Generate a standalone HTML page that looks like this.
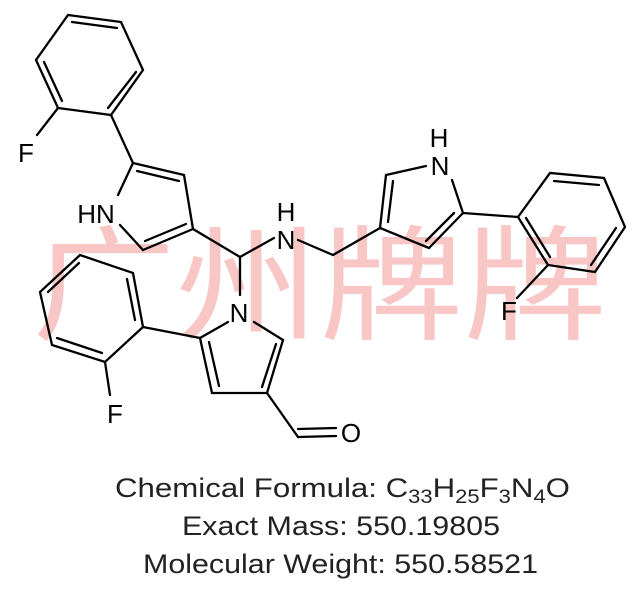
<!DOCTYPE html>
<html><head><style>html,body{margin:0;padding:0;background:#fff;}svg{display:block}</style></head>
<body>
<svg width="642" height="600" viewBox="0 0 642 600" xmlns="http://www.w3.org/2000/svg">
<g font-family="'Liberation Sans','Noto Sans CJK SC',sans-serif" fill="#f9c6c6" font-size="125">
<text x="32" y="330" textLength="575" lengthAdjust="spacingAndGlyphs">广州牌牌</text>
</g>
<g stroke="#000" stroke-width="2.3" fill="none" stroke-linecap="round">
<polyline points="68,15 121,22 143,70 111,115 58,108 36,60 68,15"/>
<line x1="72" y1="22" x2="117" y2="28"/>
<line x1="136" y1="72" x2="108" y2="108"/>
<line x1="44" y1="62" x2="62" y2="101"/>
<line x1="58" y1="108" x2="37" y2="135"/>
<line x1="111" y1="115" x2="133" y2="163"/>
<line x1="133" y1="163" x2="184" y2="175"/>
<line x1="137" y1="171" x2="179" y2="181"/>
<line x1="184" y1="175" x2="193" y2="229"/>
<line x1="193" y1="229" x2="143" y2="250"/>
<line x1="186" y1="224" x2="145" y2="241"/>
<line x1="120" y1="225" x2="143" y2="250"/>
<line x1="118" y1="195" x2="133" y2="163"/>
<line x1="193" y1="229" x2="240" y2="257"/>
<line x1="240" y1="257" x2="274" y2="238"/>
<line x1="240" y1="257" x2="240" y2="295"/>
<line x1="298" y1="240" x2="333" y2="255"/>
<line x1="333" y1="255" x2="380" y2="228"/>
<line x1="380" y1="228" x2="386" y2="175"/>
<line x1="388" y1="222" x2="393" y2="181"/>
<line x1="386" y1="175" x2="426" y2="166"/>
<line x1="452" y1="180" x2="463" y2="213"/>
<line x1="463" y1="213" x2="429" y2="248"/>
<line x1="454" y1="213" x2="426" y2="241"/>
<line x1="429" y1="248" x2="380" y2="228"/>
<line x1="463" y1="213" x2="518" y2="217"/>
<polyline points="518,217 550,173 604,178 625,227 595,272 548,265 518,217"/>
<line x1="554" y1="181" x2="599" y2="185"/>
<line x1="616" y1="228" x2="591" y2="265"/>
<line x1="550" y1="257" x2="526" y2="218"/>
<line x1="548" y1="265" x2="517" y2="298"/>
<line x1="228" y1="322" x2="200" y2="338"/>
<line x1="254" y1="322" x2="283" y2="340"/>
<line x1="283" y1="340" x2="267" y2="393"/>
<line x1="276" y1="344" x2="262" y2="387"/>
<line x1="267" y1="393" x2="212" y2="393"/>
<line x1="212" y1="393" x2="200" y2="338"/>
<line x1="219" y1="386" x2="209" y2="342"/>
<line x1="200" y1="338" x2="143" y2="327"/>
<polyline points="143,327 133,273 80,255 40,292 52,345 105,362 143,327"/>
<line x1="135" y1="320" x2="127" y2="279"/>
<line x1="79" y1="263" x2="48" y2="292"/>
<line x1="57" y1="338" x2="102" y2="353"/>
<line x1="105" y1="362" x2="110" y2="395"/>
<line x1="267" y1="393" x2="298" y2="437"/>
<line x1="298" y1="437" x2="336" y2="436"/>
<line x1="298" y1="429" x2="336" y2="428"/>
</g>
<g font-family="'Liberation Sans',sans-serif" font-size="26" fill="#000" text-anchor="middle">
<text x="26" y="162">F</text>
<text x="96" y="223">HN</text>
<text x="286" y="221">H</text>
<text x="286" y="249">N</text>
<text x="439" y="147">H</text>
<text x="440" y="175">N</text>
<text x="509" y="320">F</text>
<text x="239" y="322">N</text>
<text x="115" y="423">F</text>
<text x="351" y="442">O</text>
</g>
<g font-family="'Liberation Sans',sans-serif" font-size="27" fill="#222">
<text x="115" y="497" textLength="455" lengthAdjust="spacingAndGlyphs">Chemical Formula: C<tspan font-size="19" dy="6">33</tspan><tspan dy="-6">H</tspan><tspan font-size="19" dy="6">25</tspan><tspan dy="-6">F</tspan><tspan font-size="19" dy="6">3</tspan><tspan dy="-6">N</tspan><tspan font-size="19" dy="6">4</tspan><tspan dy="-6">O</tspan></text>
<text x="182" y="535" textLength="318" lengthAdjust="spacingAndGlyphs">Exact Mass: 550.19805</text>
<text x="143" y="573" textLength="395" lengthAdjust="spacingAndGlyphs">Molecular Weight: 550.58521</text>
</g>
</svg>
</body></html>
